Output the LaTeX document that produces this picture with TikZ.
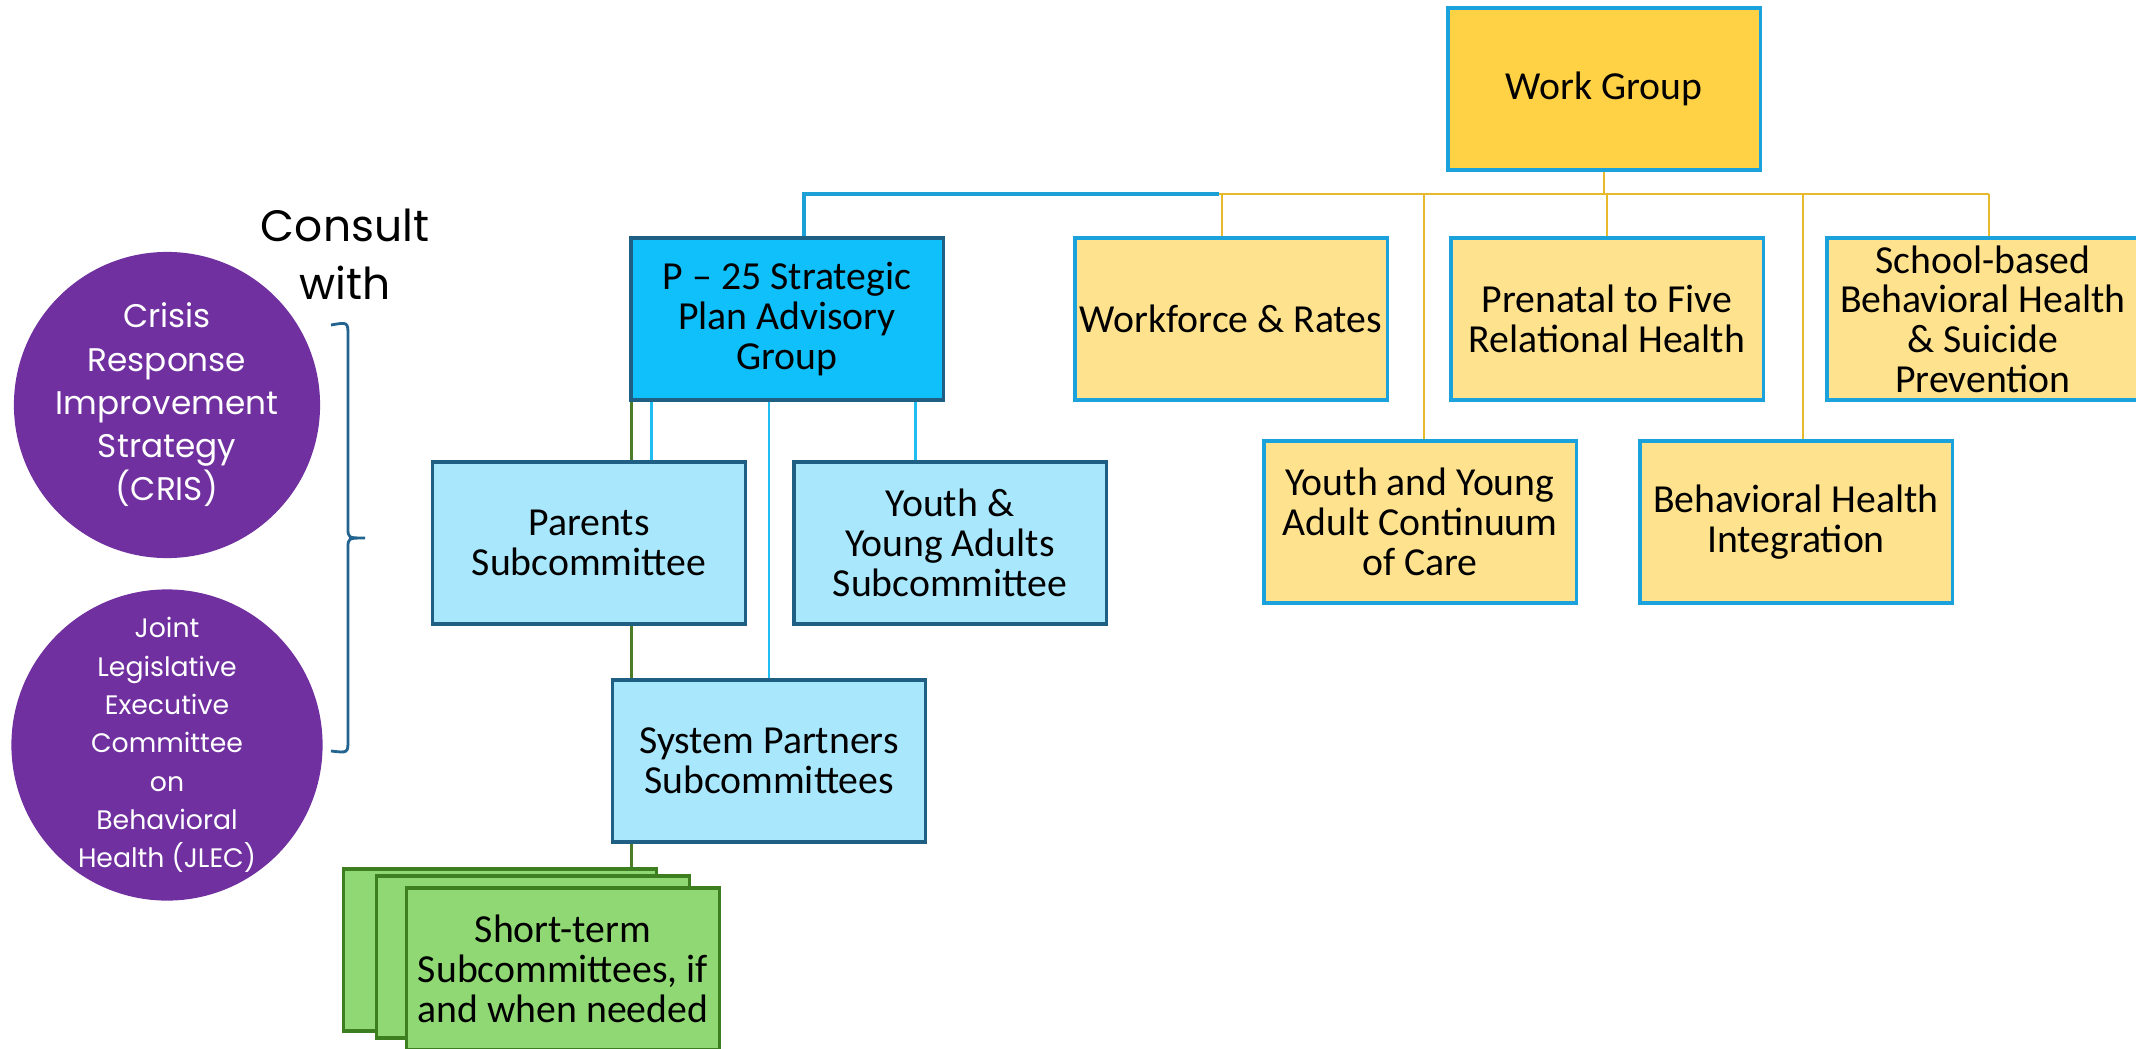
\documentclass[tikz,border=0pt]{standalone}
\usepackage{fontspec}
\setmainfont{Carlito}
\newfontfamily\circfont{Poppins}
\usepackage{tikz}
\usetikzlibrary{positioning, backgrounds}
\definecolor{wgYellow}{HTML}{FFD246}
\definecolor{lightYellow}{HTML}{FEE28D}
\definecolor{boxBlue}{HTML}{1BA1DB}
\definecolor{barGold}{HTML}{E7B92B}
\definecolor{barBlue}{HTML}{1CA0D6}
\definecolor{pBlue}{HTML}{10C0FA}
\definecolor{paleBlue}{HTML}{A8E7FC}
\definecolor{darkBlue}{HTML}{1F5F84}
\definecolor{skyLine}{HTML}{1FBEF2}
\definecolor{leafGreen}{HTML}{8FD874}
\definecolor{darkGreen}{HTML}{3D7E20}
\definecolor{stemGreen}{HTML}{4B7D29}
\definecolor{cPurple}{HTML}{7030A0}
\definecolor{braceBlue}{HTML}{22648F}

\begin{document}
\begin{tikzpicture}[x=0.01cm,y=-0.01cm,
    box/.style={draw,line width=0.9pt,minimum width=3.12cm,minimum height=1.62cm,
        inner sep=0pt,align=center,font=\fontsize{11.3}{11.3}\selectfont},
    wgbox/.style={box,draw=boxBlue,fill=wgYellow},
    ybox/.style={box,draw=boxBlue,fill=lightYellow},
    pbox/.style={box,draw=darkBlue,fill=pBlue},
    lbox/.style={box,draw=darkBlue,fill=paleBlue},
    gbox/.style={box,draw=darkGreen,fill=leafGreen},
    circ/.style={circle,fill=cPurple,minimum size=3.06cm,inner sep=0pt,align=center,text=white},
    goldline/.style={draw=barGold,line width=0.8pt},
    skyline/.style={draw=skyLine,line width=0.8pt},
    stemline/.style={draw=stemGreen,line width=0.8pt}]
\useasboundingbox (0,0) rectangle (2136,1048);

% work group side
\node[wgbox] (wg) at (1604,89) {Work Group};
\node[ybox] (wf) at (1231,319) {Workforce \& Rates};
\node[ybox] (pn) at (1607,319) {Prenatal to Five\\Relational Health};
\node[ybox] (sb) at (1983,319) {School-based\\Behavioral Health\\\& Suicide\\Prevention};
\node[ybox] (yc) at (1420,522) {Youth and Young\\Adult Continuum\\of Care};
\node[ybox] (bh) at (1796,522) {Behavioral Health\\Integration};

% advisory side
\node[pbox] (p25) at (787,319) {P -- 25 Strategic\\Plan Advisory\\Group};
\node[lbox] (pa) at (589,543) {Parents\\Subcommittee};
\node[lbox] (ya) at (950,543) {Youth \&\\Young Adults\\Subcommittee};
\node[lbox] (sp) at (769,761) {System Partners\\Subcommittees};
\foreach \i/\x/\y in {1/500/950,2/533/957}
    \node[gbox] (st\i) at (\x,\y) {};
\node[gbox] (st3) at (563,969) {Short-term\\Subcommittees, if\\and when needed};

% consulted bodies
\node[circ,font=\circfont\fontsize{9.3}{12.3}\selectfont] (cris) at (167,405)
    {Crisis\\Response\\Improvement\\Strategy\\(CRIS)};
\node[circ,font=\circfont\fontsize{7.6}{10.9}\selectfont] (jlec) at (167,745)
    {Joint\\Legislative\\Executive\\Committee\\on\\Behavioral\\Health (JLEC)};
\node[font=\circfont\fontsize{12.5}{16.5}\selectfont,align=center] (cw) at (345,254) {Consult\\with};
\draw[braceBlue,line width=0.8pt] (331,325) .. controls (348,322) .. (348,336) -- (348,528)
    .. controls (348,538) .. (365,538) .. controls (348,538) .. (348,548) -- (348,740)
    .. controls (348,753) .. (331,751);

\begin{scope}[on background layer]
\coordinate (bar) at (1219,194);
\coordinate (barEnd) at (1989,194);
\path[goldline] (bar) -- (barEnd);
\path[goldline] (wg.south) -- (wg.south |- bar);
\foreach \n/\s in {wf/-0.09,pn/0,sb/0.06,yc/0.04,bh/0.07}
    \path[goldline] ([xshift=\s cm]\n.north) -- ([xshift=\s cm]\n.north |- bar);
\coordinate (pTop) at ([xshift=0.17cm]p25.north);
\draw[barBlue,line width=1.1pt] (pTop) -- ([yshift=0.06cm]pTop) |- (bar);
\coordinate (gDrop) at ([xshift=0.02cm]p25.south west);
\coordinate (paDrop) at ([xshift=0.22cm]p25.south west);
\coordinate (yaDrop) at ([xshift=2.86cm]p25.south west);
\path[stemline] (gDrop) -- (gDrop |- st1.north);
\path[skyline] (paDrop) edge (paDrop |- pa.north)
    (sp.north |- p25.south) edge (sp.north)
    (yaDrop) edge (yaDrop |- ya.north);
\end{scope}
\end{tikzpicture}
\end{document}
